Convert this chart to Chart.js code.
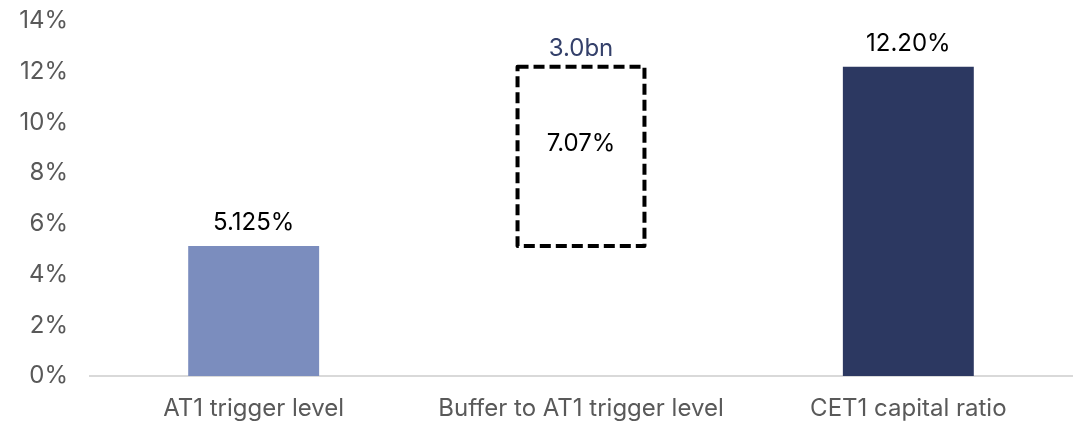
<!DOCTYPE html>
<html>
<head>
<meta charset="utf-8">
<script src="https://cdn.jsdelivr.net/npm/chart.js@4"></script>
<style>
  html, body { margin: 0; padding: 0; background: #fff; }
  #wrap { width: 1091px; height: 422px; }
</style>
</head>
<body>
<div id="wrap"><canvas id="c" width="1091" height="422"></canvas></div>
<script>
const categories = ['AT1 trigger level', 'Buffer to AT1 trigger level', 'CET1 capital ratio'];
const triggerLevel = 5.125;
const cet1Ratio = 12.2;
const valueLabels = ['5.125%', '7.07%', '12.20%'];
const bufferAmountLabel = '3.0bn';
const yTicks = [0, 2, 4, 6, 8, 10, 12, 14];
const barColors = ['#7b8dbe', 'rgba(0,0,0,0)', '#2c3861'];

const barData = [triggerLevel, [triggerLevel, cet1Ratio], cet1Ratio];

const FONT = 'Inter, "Noto Sans", sans-serif';
const FS = 24;

const dashedBoxPlugin = {
  id: 'dashedBox',
  afterDatasetsDraw(chart) {
    const ctx = chart.ctx;
    const meta = chart.getDatasetMeta(0);
    const el = meta.data[1];
    const left = el.x - el.width / 2 + 2;
    const right = el.x + el.width / 2 - 2;
    const top = Math.min(el.y, el.base);
    const bottom = Math.max(el.y, el.base);
    ctx.save();
    ctx.strokeStyle = '#000';
    ctx.lineWidth = 4;
    ctx.setLineDash([11, 5]);
    ctx.lineJoin = 'round';
    ctx.strokeRect(left, top, right - left, bottom - top);
    ctx.restore();
  }
};

const labelPlugin = {
  id: 'valueLabels',
  afterDatasetsDraw(chart) {
    const ctx = chart.ctx;
    const meta = chart.getDatasetMeta(0);
    ctx.save();
    ctx.font = FS + 'px ' + FONT;
    ctx.textAlign = 'center';
    ctx.textBaseline = 'middle';
    meta.data.forEach((el, i) => {
      const top = Math.min(el.y, el.base);
      const bottom = Math.max(el.y, el.base);
      ctx.fillStyle = '#000';
      if (i === 1) {
        ctx.fillText(valueLabels[i], el.x, (top + bottom) / 2 - 13);
        ctx.fillStyle = '#34406a';
        ctx.fillText(bufferAmountLabel, el.x, top - 18);
      } else {
        ctx.fillText(valueLabels[i], el.x, top - 23);
      }
    });
    ctx.restore();
  }
};

new Chart(document.getElementById('c'), {
  type: 'bar',
  data: {
    labels: categories,
    datasets: [{
      data: barData,
      backgroundColor: barColors,
      borderWidth: 0,
      categoryPercentage: 1,
      barPercentage: 0.4
    }]
  },
  options: {
    responsive: false,
    animation: false,
    devicePixelRatio: 1,
    layout: { padding: { top: 21, right: 19, left: 0, bottom: 0 } },
    plugins: { legend: { display: false }, tooltip: { enabled: false } },
    scales: {
      x: {
        grid: { display: false, drawTicks: false },
        border: { display: true, color: '#d9d9d9', width: 2 },
        ticks: { color: '#595959', font: { family: FONT, size: FS }, padding: 18, maxRotation: 0 },
        afterFit(scale) { scale.height = 46; scale.paddingLeft = 0; scale.paddingRight = 0; }
      },
      y: {
        min: 0, max: 14,
        grid: { display: false, drawTicks: false },
        border: { display: false },
        afterBuildTicks(scale) { scale.ticks = yTicks.map(v => ({ value: v })); },
        ticks: {
          color: '#595959',
          font: { family: FONT, size: FS },
          padding: 22,
          callback: v => v + '%'
        },
        afterFit(scale) { scale.width = 90; scale.paddingTop = 0; scale.paddingBottom = 0; }
      }
    }
  },
  plugins: [dashedBoxPlugin, labelPlugin]
});
</script>
</body>
</html>
